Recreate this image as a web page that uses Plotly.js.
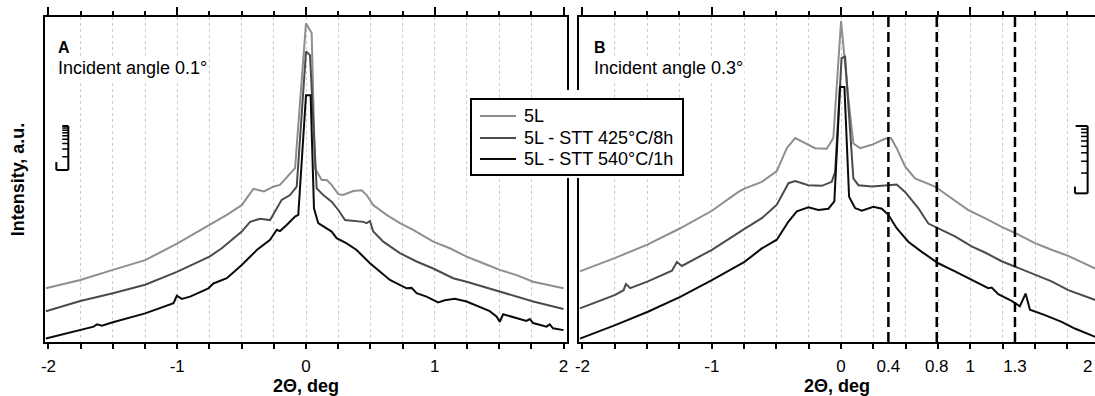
<!DOCTYPE html>
<html><head><meta charset="utf-8">
<script src="https://cdn.plot.ly/plotly-3.0.1.min.js"></script>
<style>html,body{margin:0;padding:0;background:#fff;overflow:hidden}#chart{width:1095px;height:396px}</style>
</head><body><div id="chart"></div>
<script>
// ---- series (log10 intensity, a.u.) ----
const seriesNames = ['5L', '5L - STT 425°C/8h', '5L - STT 540°C/1h'];
const seriesColors = ['#8e8e8e', '#4b4b4b', '#0a0a0a'];

// Panel A: incident angle 0.1°
const aX_5L = [-2.02,-1.753,-1.50,-1.249,-0.998,-0.799,-0.75,-0.615,-0.499,-0.409,-0.326,-0.254,-0.202,-0.15,-0.085,0.0,0.044,0.07,0.122,0.161,0.199,0.251,0.289,0.367,0.432,0.471,0.522,0.626,0.729,0.832,0.988,1.117,1.247,1.376,1.505,1.635,1.764,2.0];
const aY_5L = [1.22,1.41,1.64,1.86,2.24,2.58,2.66,2.89,3.11,3.48,3.42,3.53,3.57,3.73,3.95,7.24,7.02,3.95,3.68,3.68,3.57,3.36,3.34,3.43,3.45,3.34,3.11,2.89,2.70,2.55,2.28,2.13,1.94,1.79,1.64,1.52,1.37,1.22];
const aX_425 = [-2.02,-1.753,-1.50,-1.249,-0.998,-0.75,-0.654,-0.499,-0.434,-0.357,-0.279,-0.189,-0.124,-0.072,0.0,0.031,0.083,0.134,0.199,0.251,0.303,0.367,0.445,0.471,0.497,0.522,0.600,0.729,0.859,0.988,1.143,1.247,1.376,1.505,1.635,1.764,2.0];
const aY_425 = [0.70,0.93,1.11,1.30,1.60,1.94,2.13,2.51,2.73,2.80,2.77,3.23,3.34,3.53,6.60,6.52,3.49,3.34,3.19,3.00,2.77,2.75,2.73,2.70,2.75,2.51,2.28,2.02,1.83,1.67,1.45,1.37,1.26,1.14,1.03,0.92,0.75];
const aX_540 = [-2.02,-1.753,-1.649,-1.623,-1.585,-1.50,-1.249,-1.029,-1.003,-0.964,-0.90,-0.758,-0.719,-0.615,-0.499,-0.382,-0.279,-0.227,-0.202,-0.15,-0.085,-0.06,0.0,0.036,0.062,0.095,0.161,0.199,0.238,0.316,0.393,0.497,0.652,0.781,0.820,0.859,0.936,1.026,1.078,1.156,1.247,1.350,1.427,1.479,1.505,1.531,1.635,1.712,1.738,1.764,1.868,1.893,1.919,2.0];
const aY_540 = [0.08,0.27,0.35,0.40,0.37,0.45,0.65,0.88,1.05,0.98,1.03,1.22,1.33,1.45,1.75,2.09,2.32,2.55,2.52,2.66,2.85,2.89,5.61,5.61,3.04,2.70,2.58,2.51,2.36,2.24,2.09,1.79,1.41,1.22,1.23,1.11,1.03,0.90,0.95,0.98,0.92,0.80,0.70,0.58,0.46,0.63,0.54,0.48,0.52,0.43,0.35,0.40,0.31,0.27];

// Panel B: incident angle 0.3°
const bX_5L = [-2.02,-1.747,-1.494,-1.244,-0.999,-0.794,-0.747,-0.613,-0.497,-0.420,-0.355,-0.304,-0.201,-0.111,-0.060,0.0,0.056,0.095,0.147,0.237,0.340,0.386,0.430,0.495,0.572,0.726,0.855,0.984,1.113,1.242,1.345,1.499,1.628,1.757,2.0];
const bY_5L = [1.05,1.25,1.45,1.69,1.95,2.23,2.28,2.38,2.54,2.88,3.03,2.98,2.88,2.87,3.03,4.77,3.62,2.95,2.88,2.93,3.02,3.03,2.88,2.61,2.43,2.31,2.14,1.96,1.84,1.71,1.62,1.47,1.37,1.28,1.06];
const bX_425 = [-2.02,-1.747,-1.682,-1.664,-1.631,-1.494,-1.308,-1.270,-1.231,-0.999,-0.747,-0.613,-0.497,-0.407,-0.355,-0.253,-0.149,-0.072,-0.046,0.004,0.031,0.095,0.134,0.237,0.366,0.430,0.495,0.597,0.675,0.752,0.881,1.010,1.113,1.242,1.345,1.499,1.628,1.757,2.0];
const bY_425 = [0.50,0.70,0.77,0.86,0.80,0.90,1.06,1.19,1.13,1.37,1.68,1.84,2.04,2.36,2.39,2.33,2.32,2.38,2.53,4.22,4.24,2.43,2.33,2.31,2.33,2.34,2.23,1.99,1.76,1.69,1.57,1.42,1.33,1.20,1.12,1.00,0.90,0.77,0.60];
const bX_540 = [-2.02,-1.747,-1.494,-1.244,-0.999,-0.747,-0.613,-0.497,-0.407,-0.342,-0.253,-0.175,-0.098,-0.052,-0.008,0.026,0.062,0.108,0.160,0.250,0.315,0.366,0.430,0.520,0.624,0.752,0.881,1.010,1.138,1.165,1.216,1.319,1.383,1.427,1.461,1.577,1.706,1.808,2.0];
const bY_540 = [0.05,0.25,0.45,0.67,0.92,1.19,1.39,1.52,1.79,1.94,2.00,1.96,1.98,2.09,3.79,3.79,2.16,1.99,1.95,2.01,1.98,1.89,1.69,1.49,1.34,1.17,1.05,0.92,0.80,0.81,0.71,0.61,0.53,0.72,0.48,0.40,0.30,0.20,0.05];

// ---- tick labels and marker lines ----
const tickValsA = [-2, -1, 0, 1, 2];
const tickTextA = ['-2', '-1', '0', '1', '2'];
const tickValsB = [-2, -1, 0, 0.366, 0.740, 1, 1.345];
const tickTextB = ['-2', '-1', '0', '0.4', '0.8', '1', '1.3'];
const markerXB = [0.366, 0.740, 1.345];
const panelTitles = ['A', 'B'];
const panelSubtitles = ['Incident angle 0.1°', 'Incident angle 0.3°'];

// ---- layout helpers ----
const FONT = 'Liberation Sans, Arial, Helvetica, sans-serif';
const RA = [-2.027, 2.027], RB = [-2.027, 1.964];
const dA = [0, 0.49714], dB = [0.50857, 1];
const W = 1050, H = 325, L0 = 45, T0 = 17;         // plot-area geometry (px)
const px2x = p => (p - L0) / W, py2y = p => (T0 + H - p) / H;
const quarters = [], inner = [];
for (let i = -8; i <= 8; i++) { quarters.push(i * 0.25); if (Math.abs(i) < 8) inner.push(i * 0.25); }

const X = [[aX_5L, aX_425, aX_540], [bX_5L, bX_425, bX_540]];
const Y = [[aY_5L, aY_425, aY_540], [bY_5L, bY_425, bY_540]];
const traces = [];
[['x', 'y'], ['x2', 'y2']].forEach(([xa, ya], p) => {
  for (let s = 0; s < 3; s++) {
    traces.push({
      type: 'scatter', mode: 'lines', name: seriesNames[s],
      x: X[p][s], y: Y[p][s], xaxis: xa, yaxis: ya,
      line: {color: seriesColors[s], width: 2},
      showlegend: false, hoverinfo: 'skip'
    });
  }
});
// empty helper traces so that the overlay axes (labels, top ticks, grid) get drawn
[['x3', 'y'], ['x5', 'y'], ['x7', 'y'], ['x4', 'y2'], ['x6', 'y2'], ['x8', 'y2']].forEach(([xa, ya]) =>
  traces.push({type: 'scatter', mode: 'lines', x: [], y: [], xaxis: xa, yaxis: ya, showlegend: false, hoverinfo: 'skip'}));

function mainX(domain, range, anchor) {
  return {domain, range, anchor, tickmode: 'array', tickvals: quarters, ticks: 'outside', ticklen: 5,
    tickwidth: 2, tickcolor: '#000', showticklabels: false, showline: true, linecolor: '#000',
    linewidth: 2, showgrid: false, zeroline: false, fixedrange: true};
}
function labelX(over, range, anchor, vals, text) {
  return {overlaying: over, anchor, side: 'bottom', range, tickmode: 'array', tickvals: vals,
    ticktext: text, ticks: 'outside', ticklen: 9, tickcolor: 'rgba(0,0,0,0)', showline: false,
    showgrid: false, zeroline: false, tickfont: {size: 17}, fixedrange: true,
    title: {text: '<b>2\u0398, deg</b>', font: {size: 18}, standoff: 4}};
}
function topX(over, range, anchor) {
  return {overlaying: over, anchor, side: 'top', range, tickmode: 'linear', tick0: 0, dtick: 1,
    ticks: 'outside', ticklen: 8, tickwidth: 2, tickcolor: '#000',
    minor: {tickmode: 'linear', tick0: 0, dtick: 0.25, ticks: 'outside', ticklen: 4, tickwidth: 2, tickcolor: '#000', showgrid: false},
    showticklabels: false, showline: true, linewidth: 2, linecolor: '#000', showgrid: false,
    zeroline: false, fixedrange: true};
}
function gridX(over, range, anchor) {
  return {overlaying: over, anchor, range, tickmode: 'array', tickvals: inner, ticks: '',
    showticklabels: false, showline: false, showgrid: true, gridcolor: '#cccccc', gridwidth: 1,
    griddash: '3px,3px', zeroline: false, fixedrange: true};
}

const shapes = [];
markerXB.forEach(v => shapes.push({type: 'line', xref: 'x2', yref: 'y2 domain', x0: v, x1: v, y0: 0, y1: 1,
  line: {color: '#000', width: 2.5, dash: '10px,5px'}}));

// decade rulers (log scale bars)
function ruler(xref, yref, xr, xlLong, xlTick, xlTop, yb, stub) {
  const L = (x0, y0, x1, y1, w) => shapes.push({type: 'line', xref, yref, x0, y0, x1, y1, line: {color: '#000', width: w}});
  L(xr, yb, xr, yb + 1, 2);
  L(xlLong, yb, xr, yb, 2);
  L(xlLong, yb, xlLong, yb + stub, 2);
  L(xlTop, yb + 1, xr, yb + 1, 2);
  for (let k = 2; k <= 9; k++) L(xlTick, yb + Math.log10(k), xr, yb + Math.log10(k), 1.5);
}
ruler('x', 'y', -1.846, -1.939, -1.893, -1.893, 3.909, 0.18);
ruler('x2', 'y2', 1.907, 1.809, 1.856, 1.814, 2.209, 0.10);

// white patch where the legend interrupts the two frames
shapes.push({type: 'rect', xref: 'paper', yref: 'paper', x0: px2x(560), x1: px2x(586), y0: py2y(178), y1: py2y(90),
  fillcolor: '#fff', line: {width: 0}, layer: 'above'});
// legend box
shapes.push({type: 'rect', xref: 'paper', yref: 'paper', x0: px2x(471), x1: px2x(683), y0: py2y(175), y1: py2y(99),
  fillcolor: '#fff', line: {color: '#000', width: 2}, layer: 'above'});
const legendRowsPx = [116, 138, 159];
const annotations = [];
seriesNames.forEach((nm, s) => {
  shapes.push({type: 'line', xref: 'paper', yref: 'paper', x0: px2x(480), x1: px2x(516),
    y0: py2y(legendRowsPx[s]), y1: py2y(legendRowsPx[s]), line: {color: seriesColors[s], width: 2}, layer: 'above'});
  annotations.push({xref: 'paper', yref: 'paper', x: px2x(522), y: py2y(legendRowsPx[s]), xanchor: 'left',
    yanchor: 'middle', text: nm, font: {size: 18}, showarrow: false});
});

[px2x(56), px2x(592)].forEach((xp, p) => {
  annotations.push({xref: 'paper', yref: 'paper', x: xp, y: py2y(47), xanchor: 'left', yanchor: 'middle',
    text: '<b>' + panelTitles[p] + '</b>', font: {size: 16}, showarrow: false, bgcolor: '#fff'});
  annotations.push({xref: 'paper', yref: 'paper', x: xp, y: py2y(68), xanchor: 'left', yanchor: 'middle',
    text: panelSubtitles[p], font: {size: 18}, showarrow: false, bgcolor: '#fff'});
});
// x = 2 label of panel B, at the picture edge
annotations.push({xref: 'paper', yref: 'paper', x: px2x(1094), y: py2y(366.5), xanchor: 'right', yanchor: 'middle',
  text: '2', font: {size: 17}, showarrow: false});

const layout = {
  width: 1095, height: 396,
  margin: {l: 45, r: 0, t: 17, b: 54, pad: 0},
  paper_bgcolor: '#fff', plot_bgcolor: '#fff',
  font: {family: FONT, color: '#000', size: 17},
  showlegend: false,
  xaxis: mainX(dA, RA, 'y'),
  xaxis2: mainX(dB, RB, 'y2'),
  xaxis3: labelX('x', RA, 'y', tickValsA, tickTextA),
  xaxis4: labelX('x2', RB, 'y2', tickValsB, tickTextB),
  xaxis5: topX('x', RA, 'y'),
  xaxis6: topX('x2', RB, 'y2'),
  xaxis7: gridX('x', RA, 'y'),
  xaxis8: gridX('x2', RB, 'y2'),
  yaxis: {domain: [0, 1], range: [0, 7.386], anchor: 'x', showline: true, mirror: true, linewidth: 2,
    linecolor: '#000', ticks: '', showticklabels: false, showgrid: false, zeroline: false, fixedrange: true,
    title: {text: '<b>Intensity, a.u.</b>', font: {size: 18}, standoff: 14}},
  yaxis2: {domain: [0, 1], range: [0, 4.829], anchor: 'x2', showline: true, mirror: false, linewidth: 2,
    linecolor: '#000', ticks: '', showticklabels: false, showgrid: false, zeroline: false, fixedrange: true},
  shapes, annotations
};
Plotly.newPlot('chart', traces, layout, {displayModeBar: false, staticPlot: true});
</script>
</body></html>
